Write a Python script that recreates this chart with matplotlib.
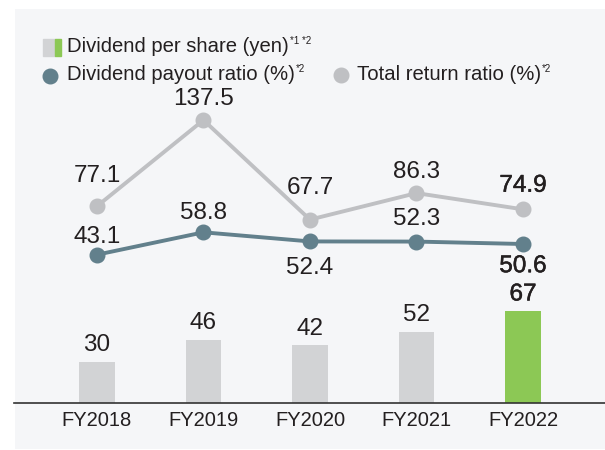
import matplotlib
matplotlib.use("Agg")
import matplotlib.pyplot as plt
from matplotlib.patches import Rectangle
from matplotlib.lines import Line2D
import matplotlib.patheffects as pe

# data
years = ['FY2018', 'FY2019', 'FY2020', 'FY2021', 'FY2022']
dividend = [30, 46, 42, 52, 67]
payout = [43.1, 58.8, 52.4, 52.3, 50.6]
total_return = [77.1, 137.5, 67.7, 86.3, 74.9]

# styles
gray_bar = '#d2d3d5'
green_bar = '#8cc855'
payout_col = '#62808c'
total_col = '#bfc0c3'
text_col = '#231f20'
panel_col = '#f5f6f8'
font = 'Liberation Sans'

# label offsets in points (above > 0, below < 0)
payout_off = [13, 14, -19, 16, -16]
total_off = [22, 15, 23, 15, 17]

W, H = 605, 450
fig = plt.figure(figsize=(W / 100, H / 100), dpi=100)
fig.patch.set_facecolor('white')

# background panel
fig.add_artist(Rectangle((15 / W, 1 - 449 / H), 590 / W, 440 / H,
                         transform=fig.transFigure, facecolor=panel_col,
                         edgecolor='none', zorder=0))

ax = fig.add_axes([14 / W, 47 / H, 591 / W, 394 / H])
ax.patch.set_alpha(0)
x = list(range(len(years)))
bar_colors = [gray_bar] * 4 + [green_bar]
ax.bar(x, dividend, width=0.33, color=bar_colors, zorder=2)
ax.set_ylim(0, 287)
ax.set_xlim(-0.779, 4.77)
for s in ['top', 'right', 'left']:
    ax.spines[s].set_visible(False)
ax.spines['bottom'].set_color('#333333')
ax.spines['bottom'].set_linewidth(1.2)
ax.set_yticks([])
ax.set_xticks(x)
ax.set_xticklabels(years, fontsize=14.5, family=font, color=text_col)
ax.tick_params(axis='x', length=0, pad=6)

# FY2022 numbers are a little heavier in the original
bold_fx = [pe.withStroke(linewidth=0.35, foreground=text_col)]

for i, v in enumerate(dividend):
    t = ax.annotate(str(v), (i, v), xytext=(0, 4), textcoords='offset points',
                    ha='center', va='bottom', fontsize=17.5, family=font,
                    color=text_col)
    if i == 4:
        t.set_path_effects(bold_fx)

ax2 = ax.twinx()
ax2.set_ylim(-60.9, 215.4)
ax2.set_axis_off()
ax2.plot(x, total_return, color=total_col, lw=2.8, marker='o', ms=10.5,
         zorder=3)
ax2.plot(x, payout, color=payout_col, lw=2.8, marker='o', ms=10.5, zorder=3)

for i in x:
    for vals, offs in ((total_return, total_off), (payout, payout_off)):
        v = vals[i]
        o = offs[i]
        t = ax2.annotate(f'{v:.1f}', (i, v), xytext=(0, o),
                         textcoords='offset points', ha='center',
                         va='center', fontsize=17.5, family=font,
                         color=text_col)
        if i == 4:
            t.set_path_effects(bold_fx)

# legend, built by hand
def fx(px):
    return px / W


def fy(py):
    return 1 - py / H


fig.add_artist(Rectangle((fx(43), fy(56)), 12 / W, 17 / H,
                         transform=fig.transFigure, color=gray_bar))
fig.add_artist(Rectangle((fx(55), fy(56)), 6 / W, 17 / H,
                         transform=fig.transFigure, color=green_bar))
fig.add_artist(Line2D([fx(50)], [fy(76)], marker='o', ms=10.5,
                      color=payout_col, transform=fig.transFigure))
fig.add_artist(Line2D([fx(341)], [fy(75)], marker='o', ms=10.5,
                      color=total_col, transform=fig.transFigure))

legend_items = [
    (67, 47, 'Dividend per share (yen)', '*1 *2'),
    (67, 75, 'Dividend payout ratio (%)', '*2'),
    (357, 75, 'Total return ratio (%)', '*2'),
]
renderer = fig.canvas.get_renderer()
for px, py, label, sup in legend_items:
    t = fig.text(fx(px), fy(py), label, fontsize=14.6, family=font,
                 color=text_col, ha='left', va='center')
    bb = t.get_window_extent(renderer=renderer)
    fig.text(bb.x1 / W + 1 / W, fy(py - 6), sup, fontsize=7, family=font,
             color=text_col, ha='left', va='center')

fig.savefig('out.png', dpi=100)
